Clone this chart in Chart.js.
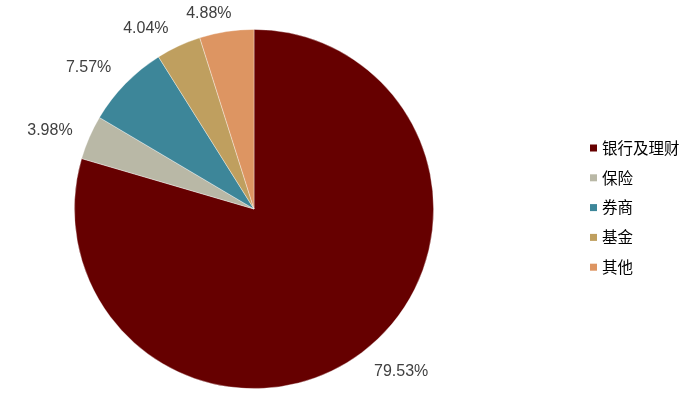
<!DOCTYPE html>
<html>
<head>
<meta charset="utf-8">
<script src="https://cdn.jsdelivr.net/npm/chart.js@4/dist/chart.umd.min.js"></script>
<style>
html,body{margin:0;padding:0;background:#fff;}
#wrap{width:700px;height:400px;position:relative;}
</style>
</head>
<body>
<div id="wrap"><canvas id="c" width="700" height="400"></canvas></div>
<script>
const categories = ['银行及理财', '保险', '券商', '基金', '其他'];
const shares = [79.53, 3.98, 7.57, 4.04, 4.88];
const valueLabels = ['79.53%', '3.98%', '7.57%', '4.04%', '4.88%'];
const colors = ['#660000', '#b9b8a6', '#3d8699', '#bf9f5f', '#dd9562'];

// style: radial label distance and small nudges
const labelRadius = 217;
const labelNudge = [[17,-11],[-5,8],[-10,10],[-17,17],[-12,19]];

const labelPlugin = {
  id: 'sliceLabels',
  afterDatasetsDraw(chart) {
    const ctx = chart.ctx;
    const meta = chart.getDatasetMeta(0);
    ctx.save();
    ctx.font = '16px "Liberation Sans", Arial, sans-serif';
    ctx.fillStyle = '#404040';
    ctx.textAlign = 'center';
    ctx.textBaseline = 'middle';
    meta.data.forEach((arc, i) => {
      const mid = (arc.startAngle + arc.endAngle) / 2;
      const x = arc.x + Math.cos(mid) * labelRadius + labelNudge[i][0];
      const y = arc.y + Math.sin(mid) * labelRadius + labelNudge[i][1];
      ctx.fillText(valueLabels[i], x, y);
    });
    ctx.restore();
  }
};

const legendPlugin = {
  id: 'customLegend',
  afterDraw(chart) {
    const ctx = chart.ctx;
    ctx.save();
    ctx.font = '15.5px "Noto Sans CJK SC", sans-serif';
    ctx.textBaseline = 'middle';
    ctx.textAlign = 'left';
    categories.forEach((name, i) => {
      const y = 148 + i * 29.8;
      ctx.fillStyle = colors[i];
      ctx.fillRect(590, y - 3.5, 7, 7);
      ctx.fillStyle = '#000';
      ctx.fillText(name, 602, y);
    });
    ctx.restore();
  }
};

new Chart(document.getElementById('c'), {
  type: 'pie',
  data: {
    labels: categories,
    datasets: [{
      data: shares,
      backgroundColor: colors,
      borderColor: 'rgba(255,255,255,0.45)',
      borderWidth: 0.8
    }]
  },
  options: {
    responsive: false,
    animation: false,
    layout: { padding: { left: 74, right: 266, top: 29, bottom: 11 } },
    plugins: {
      legend: { display: false },
      tooltip: { enabled: false }
    }
  },
  plugins: [labelPlugin, legendPlugin]
});
</script>
</body>
</html>
